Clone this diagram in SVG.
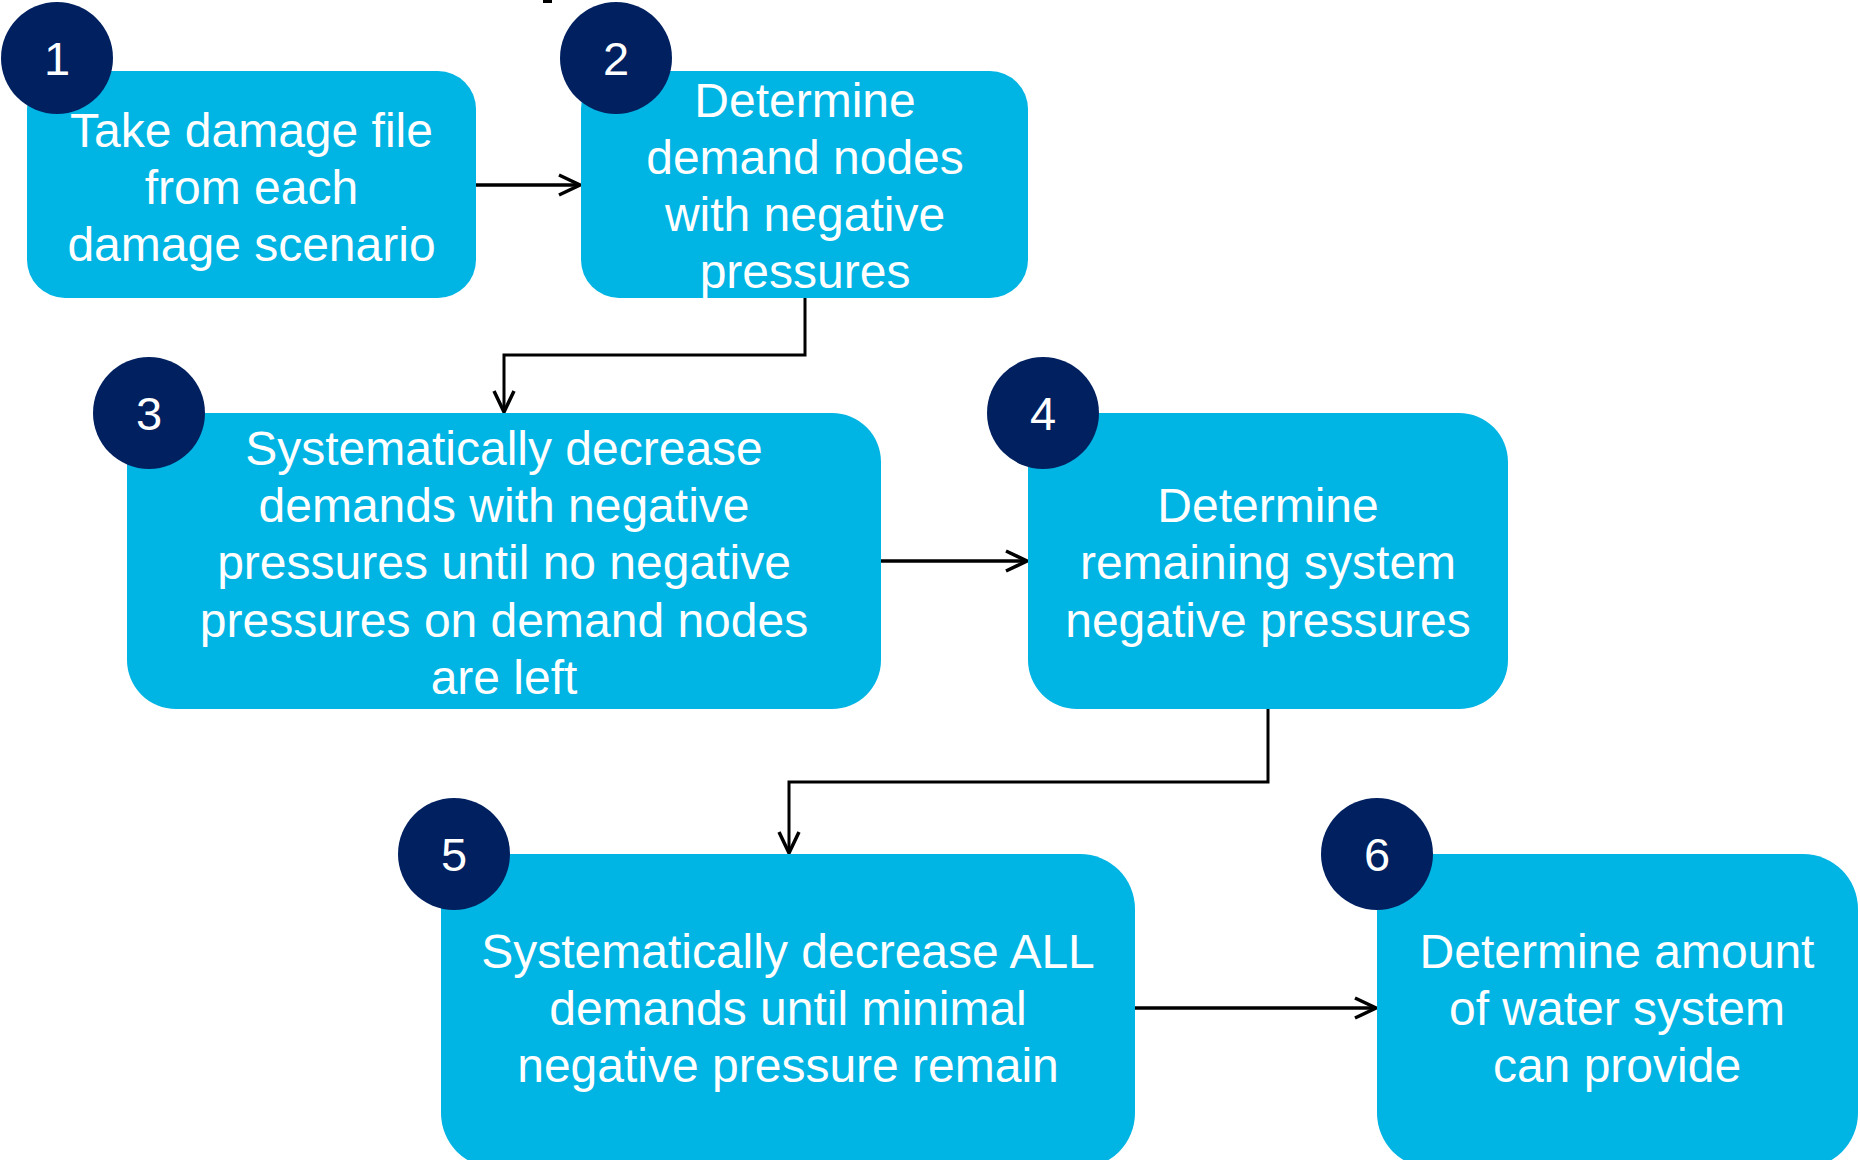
<svg xmlns="http://www.w3.org/2000/svg" width="1860" height="1160" viewBox="0 0 1860 1160">
<defs>
<style>
.box{fill:#00B4E4;}
.badge{fill:#002060;}
.t{font-family:"Liberation Sans",Arial,sans-serif;font-size:48px;fill:#FFFFFF;text-anchor:middle;}
.n{font-family:"Liberation Sans",Arial,sans-serif;font-size:47px;fill:#FFFFFF;text-anchor:middle;}
.c{fill:none;stroke:#000000;stroke-width:3;}
.h{stroke-width:3.6;}
</style>
<marker id="ah" viewBox="0 0 24 24" refX="22" refY="12" markerWidth="24" markerHeight="24" markerUnits="userSpaceOnUse" orient="auto">
<path d="M1,2 L22,12 L1,22" fill="none" stroke="#000000" stroke-width="3.5"/>
</marker>
</defs>
<rect width="1860" height="1160" fill="#FFFFFF"/>
<rect x="543" y="0" width="9" height="3" fill="#000000"/>

<g id="connectors">
<path class="c h" d="M476,185 L580,185" marker-end="url(#ah)"/>
<path class="c" d="M805,298 L805,355 L504,355 L504,412" marker-end="url(#ah)"/>
<path class="c h" d="M881,561 L1027,561" marker-end="url(#ah)"/>
<path class="c" d="M1268,709 L1268,782 L789,782 L789,853" marker-end="url(#ah)"/>
<path class="c h" d="M1135,1008 L1376,1008" marker-end="url(#ah)"/>
</g>

<g id="node1">
<rect class="box" x="27" y="71" width="449" height="227" rx="38" ry="38"/>
<text class="t" x="251.5" y="147">Take damage file</text>
<text class="t" x="251.5" y="204">from each</text>
<text class="t" x="251.5" y="261">damage scenario</text>
<circle class="badge" cx="57" cy="58" r="56"/>
<text class="n" x="57" y="75">1</text>
</g>

<g id="node2">
<rect class="box" x="581" y="71" width="447" height="227" rx="38" ry="38"/>
<text class="t" x="805" y="117">Determine</text>
<text class="t" x="805" y="174">demand nodes</text>
<text class="t" x="805" y="231">with negative</text>
<text class="t" x="805" y="288">pressures</text>
<circle class="badge" cx="616" cy="58" r="56"/>
<text class="n" x="616" y="75">2</text>
</g>

<g id="node3">
<rect class="box" x="127" y="413" width="754" height="296" rx="49" ry="49"/>
<text class="t" x="504" y="465">Systematically decrease</text>
<text class="t" x="504" y="522">demands with negative</text>
<text class="t" x="504" y="579">pressures until no negative</text>
<text class="t" x="504" y="637">pressures on demand nodes</text>
<text class="t" x="504" y="694">are left</text>
<circle class="badge" cx="149" cy="413" r="56"/>
<text class="n" x="149" y="430">3</text>
</g>

<g id="node4">
<rect class="box" x="1028" y="413" width="480" height="296" rx="49" ry="49"/>
<text class="t" x="1268" y="522">Determine</text>
<text class="t" x="1268" y="579">remaining system</text>
<text class="t" x="1268" y="637">negative pressures</text>
<circle class="badge" cx="1043" cy="413" r="56"/>
<text class="n" x="1043" y="430">4</text>
</g>

<g id="node5">
<rect class="box" x="441" y="854" width="694" height="314" rx="55" ry="55"/>
<text class="t" x="788" y="968">Systematically decrease ALL</text>
<text class="t" x="788" y="1025">demands until minimal</text>
<text class="t" x="788" y="1082">negative pressure remain</text>
<circle class="badge" cx="454" cy="854" r="56"/>
<text class="n" x="454" y="871">5</text>
</g>

<g id="node6">
<rect class="box" x="1377" y="854" width="481" height="314" rx="55" ry="55"/>
<text class="t" x="1617" y="968">Determine amount</text>
<text class="t" x="1617" y="1025">of water system</text>
<text class="t" x="1617" y="1082">can provide</text>
<circle class="badge" cx="1377" cy="854" r="56"/>
<text class="n" x="1377" y="871">6</text>
</g>
</svg>
